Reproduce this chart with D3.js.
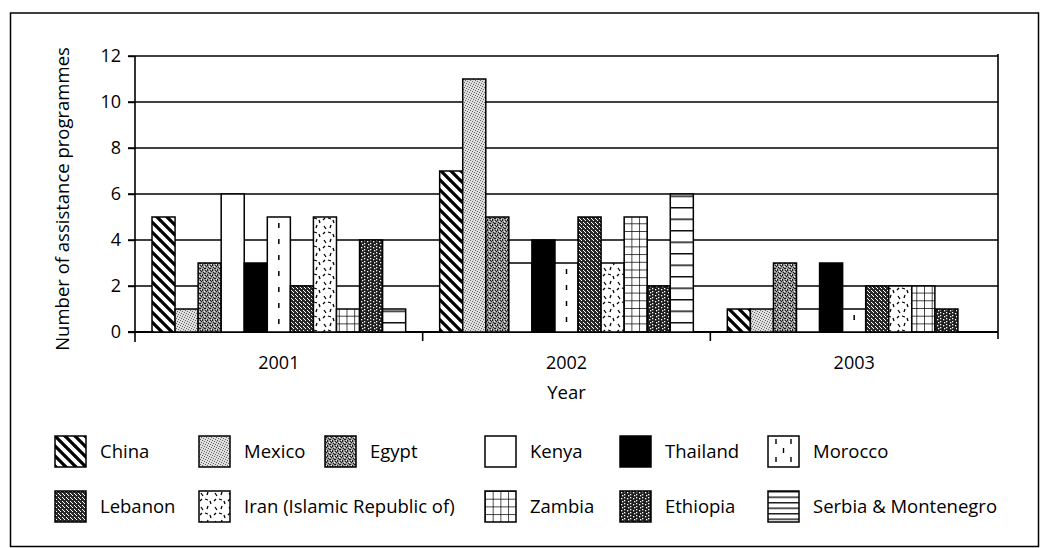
<!DOCTYPE html>
<html>
<head>
<meta charset="utf-8">
<script src="https://cdn.jsdelivr.net/npm/d3@7"></script>
<style>
  body { margin: 0; background: #fff; }
  svg { display: block; font-family: "Open Sans", "DejaVu Sans", sans-serif; }
</style>
</head>
<body>
<script>
// ---------- data ----------
const years = ["2001", "2002", "2003"];
const countries = ["China", "Mexico", "Egypt", "Kenya", "Thailand", "Morocco",
  "Lebanon", "Iran (Islamic Republic of)", "Zambia", "Ethiopia", "Serbia & Montenegro"];
const values2001 = [5, 1, 3, 6, 3, 5, 2, 5, 1, 4, 1];
const values2002 = [7, 11, 5, 3, 4, 3, 5, 3, 5, 2, 6];
const values2003 = [1, 1, 3, 1, 3, 1, 2, 2, 2, 1, 0];
const yTicks = [0, 2, 4, 6, 8, 10, 12];
const yTitle = "Number of assistance programmes";
const xTitle = "Year";

const seriesByYear = { "2001": values2001, "2002": values2002, "2003": values2003 };
const rows = [];
years.forEach(yr => countries.forEach((c, i) => rows.push({ year: yr, country: c, idx: i, value: seriesByYear[yr][i] })));

// ---------- layout ----------
const W = 1041, H = 548;
const plot = { left: 135, right: 998, top: 56, bottom: 332 };
const groupPad = 17;

const svg = d3.select("body").append("svg").attr("width", W).attr("height", H);

// ---------- patterns ----------
const defs = svg.append("defs");
function pat(id, w, h, build) {
  const p = defs.append("pattern").attr("id", id).attr("patternUnits", "userSpaceOnUse")
    .attr("width", w).attr("height", h);
  build(p);
}
function dots(p, pts, color, s) {
  pts.forEach(d => p.append("rect").attr("x", d[0]).attr("y", d[1]).attr("width", s || 1).attr("height", s || 1).attr("fill", color));
}
// China: diagonal "\" stripes
pat("p0", 10, 10, p => {
  p.append("rect").attr("width", 10).attr("height", 10).attr("fill", "#fff");
  p.append("path").attr("d", "M-1,-1 L11,11 M-6,4 L1,11 M4,-6 L11,1")
    .attr("stroke", "#000").attr("stroke-width", 3.2);
});
// Mexico: light stipple
pat("p1", 5, 5, p => {
  p.append("rect").attr("width", 5).attr("height", 5).attr("fill", "#dedede");
  dots(p, [[0, 0], [2, 1], [4, 2], [1, 3], [3, 4]], "#666");
});
// Egypt: medium-dark stipple
pat("p2", 5, 5, p => {
  p.append("rect").attr("width", 5).attr("height", 5).attr("fill", "#9a9a9a");
  dots(p, [[0, 0], [2, 0], [1, 1], [3, 2], [0, 3], [4, 3], [2, 4]], "#1a1a1a");
  dots(p, [[4, 1], [1, 4]], "#eee");
});
// Lebanon: dark with white dots
pat("p6", 4, 4, p => {
  p.append("rect").attr("width", 4).attr("height", 4).attr("fill", "#2a2a2a");
  dots(p, [[1, 0], [3, 2], [0, 3]], "#fff");
});
// Iran: scattered short dashes
pat("p7", 14, 14, p => {
  p.append("rect").attr("width", 14).attr("height", 14).attr("fill", "#fff");
  p.append("path").attr("d", "M2,2 l2,3 M9,1 l-1,3 M6,8 l3,1 M11,10 l1,3 M1,10 l2,-2")
    .attr("stroke", "#000").attr("stroke-width", 1.3);
});
// Zambia: grid
pat("p8", 7.7, 7.7, p => {
  p.append("rect").attr("width", 7.7).attr("height", 7.7).attr("fill", "#fff");
  p.append("path").attr("d", "M0,0 H7.7 M0,0 V7.7").attr("stroke", "#000").attr("stroke-width", 1.4);
});
// Ethiopia: dark with white specks
pat("p9", 6, 6, p => {
  p.append("rect").attr("width", 6).attr("height", 6).attr("fill", "#1e1e1e");
  dots(p, [[1, 1], [4, 3], [2, 4], [4, 0]], "#fff", 1.3);
});
// Serbia: horizontal lines
pat("p10", 10, 11.5, p => {
  p.append("rect").attr("width", 10).attr("height", 11.5).attr("fill", "#fff");
  p.append("path").attr("d", "M0,0.75 H10").attr("stroke", "#000").attr("stroke-width", 1.4);
});
pat("p10L", 10, 5.5, p => {
  p.append("rect").attr("width", 10).attr("height", 5.5).attr("fill", "#fff");
  p.append("path").attr("d", "M0,0.75 H10").attr("stroke", "#000").attr("stroke-width", 1.3);
});
function fillFor(i, legend) {
  if (i === 3 || i === 5) return "#fff";
  if (i === 4) return "#000";
  if (i === 10 && legend) return "url(#p10L)";
  return "url(#p" + i + ")";
}

// ---------- scales ----------
const x0 = d3.scaleBand().domain(years).range([plot.left, plot.right]).padding(0);
const x1 = d3.scaleBand().domain(countries).range([groupPad, x0.bandwidth() - groupPad]).padding(0);
const y = d3.scaleLinear().domain([0, 12]).range([plot.bottom, plot.top]);

// ---------- outer frame ----------
svg.append("rect").attr("x", 10.5).attr("y", 13).attr("width", 1028).attr("height", 533.5)
  .attr("fill", "none").attr("stroke", "#000").attr("stroke-width", 1.5);

// ---------- gridlines ----------
svg.append("g").selectAll("line").data(yTicks).join("line")
  .attr("x1", plot.left - 7).attr("x2", plot.right)
  .attr("y1", d => y(d)).attr("y2", d => y(d))
  .attr("stroke", "#000").attr("stroke-width", d => d === 0 ? 1.8 : 1.4);

// ---------- y axis ----------
const yAxis = svg.append("g").attr("transform", `translate(${plot.left},0)`)
  .call(d3.axisLeft(y).tickValues(yTicks).tickSize(7).tickPadding(7).tickFormat(d3.format("d")));
yAxis.select(".domain").remove();
yAxis.selectAll("line").attr("stroke", "#000").attr("stroke-width", 1.4);
yAxis.selectAll("text").attr("font-size", 18).attr("fill", "#000")
  .attr("font-family", "'Open Sans', sans-serif");
svg.append("line").attr("x1", plot.left).attr("x2", plot.left).attr("y1", plot.top).attr("y2", plot.bottom + 10)
  .attr("stroke", "#000").attr("stroke-width", 1.6);
svg.append("line").attr("x1", plot.right).attr("x2", plot.right).attr("y1", plot.top - 2).attr("y2", plot.bottom + 7)
  .attr("stroke", "#000").attr("stroke-width", 1.6);

// ---------- x axis ----------
const xAxis = svg.append("g").attr("transform", `translate(0,${plot.bottom})`)
  .call(d3.axisBottom(x0).tickSize(0).tickPadding(24));
xAxis.select(".domain").remove();
xAxis.selectAll("text").attr("font-size", 18).attr("fill", "#000")
  .attr("font-family", "'Open Sans', sans-serif");
svg.append("g").selectAll("line").data(years.slice(1)).join("line")
  .attr("x1", d => x0(d)).attr("x2", d => x0(d))
  .attr("y1", plot.bottom).attr("y2", plot.bottom + 9)
  .attr("stroke", "#000").attr("stroke-width", 1.6);

// ---------- bars ----------
const bars = svg.append("g");
bars.selectAll("rect").data(rows.filter(d => d.value > 0)).join("rect")
  .attr("x", d => x0(d.year) + x1(d.country))
  .attr("y", d => y(d.value))
  .attr("width", x1.bandwidth())
  .attr("height", d => y(0) - y(d.value))
  .attr("fill", d => fillFor(d.idx, false))
  .attr("stroke", "#000").attr("stroke-width", 1.5);
// Morocco dashes
bars.selectAll("line.mor").data(rows.filter(d => d.idx === 5 && d.value > 0)).join("line")
  .attr("class", "mor")
  .attr("x1", d => x0(d.year) + x1(d.country) + x1.bandwidth() / 2)
  .attr("x2", d => x0(d.year) + x1(d.country) + x1.bandwidth() / 2)
  .attr("y1", d => y(d.value) + 6).attr("y2", y(0) - 2)
  .attr("stroke", "#000").attr("stroke-width", 1.5).attr("stroke-dasharray", "5,11");

// ---------- axis titles ----------
svg.append("text").attr("transform", `translate(69,${(plot.top + plot.bottom) / 2 + 5}) rotate(-90)`)
  .attr("text-anchor", "middle").attr("font-size", 18.5).attr("fill", "#000").text(yTitle);
svg.append("text").attr("x", x0("2002") + x0.bandwidth() / 2).attr("y", 399)
  .attr("text-anchor", "middle").attr("font-size", 18.5).attr("fill", "#000").text(xTitle);

// ---------- legend ----------
const legendCols = [55, 199, 325, 485, 620, 768];
const legendRowsY = [436, 491];
const legendSlots = [[0, 0], [0, 1], [0, 2], [0, 3], [0, 4], [0, 5], [1, 0], [1, 1], [1, 3], [1, 4], [1, 5]];
const sw = 31;
const lg = svg.append("g").selectAll("g").data(countries).join("g")
  .attr("transform", (d, i) => `translate(${legendCols[legendSlots[i][1]]},${legendRowsY[legendSlots[i][0]]})`);
lg.append("rect").attr("width", sw).attr("height", sw)
  .attr("fill", (d, i) => fillFor(i, true)).attr("stroke", "#000").attr("stroke-width", 1.5);
lg.filter((d, i) => i === 5).selectAll("line").data([[8, 3], [23, 3], [15.5, 12], [8, 21], [23, 21]]).join("line")
  .attr("x1", d => d[0]).attr("x2", d => d[0]).attr("y1", d => d[1]).attr("y2", d => d[1] + 5)
  .attr("stroke", "#000").attr("stroke-width", 1.4);
lg.append("text").attr("x", sw + 14).attr("y", sw / 2).attr("dy", "0.35em")
  .attr("font-size", 18.5).attr("fill", "#000").text(d => d);
</script>
</body>
</html>
